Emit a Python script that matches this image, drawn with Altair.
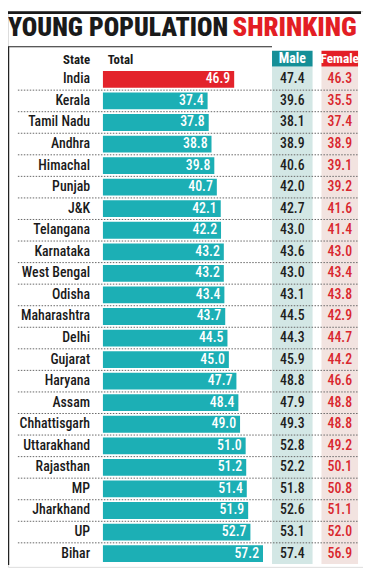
import altair as alt
import pandas as pd

states = ["India", "Kerala", "Tamil Nadu", "Andhra", "Himachal", "Punjab", "J&K",
          "Telangana", "Karnataka", "West Bengal", "Odisha", "Maharashtra", "Delhi",
          "Gujarat", "Haryana", "Assam", "Chhattisgarh", "Uttarakhand", "Rajasthan",
          "MP", "Jharkhand", "UP", "Bihar"]
total = [46.9, 37.4, 37.8, 38.8, 39.8, 40.7, 42.1, 42.2, 43.2, 43.2, 43.4, 43.7, 44.5,
         45.0, 47.7, 48.4, 49.0, 51.0, 51.2, 51.4, 51.9, 52.7, 57.2]
male = [47.4, 39.6, 38.1, 38.9, 40.6, 42.0, 42.7, 43.0, 43.6, 43.0, 43.1, 44.5, 44.3,
        45.9, 48.8, 47.9, 49.3, 52.8, 52.2, 51.8, 52.6, 53.1, 57.4]
female = [46.3, 35.5, 37.4, 38.9, 39.1, 39.2, 41.6, 41.4, 43.0, 43.4, 43.8, 42.9, 44.7,
          44.2, 46.6, 48.8, 48.8, 49.2, 50.1, 50.8, 51.1, 52.0, 56.9]

title_black = "YOUNG POPULATION"
title_red = "SHRINKING"
hdr_state = "State"
hdr_total = "Total"
hdr_male = "Male"
hdr_female = "Female"

df = pd.DataFrame({"State": states, "Total": total, "Male": male, "Female": female})
sep = df.iloc[:-1]
one = pd.DataFrame({"k": [0]})

FONT = "Roboto Condensed, Arial Narrow, sans-serif"
TEAL = "#1cafb5"
RED = "#e3232b"

yscale = alt.Scale(domain=states, range=[58.1, 559.5], paddingInner=0, paddingOuter=0)
Y = alt.Y("State:N", sort=states, scale=yscale, axis=None)
xscale = alt.Scale(domain=[0, 60], range=[96, 265.8], nice=False, zero=True)

def rect(x, x2, y, y2, color):
    return alt.Chart(one).mark_rect(color=color).encode(
        x=alt.value(x), x2=alt.value(x2), y=alt.value(y), y2=alt.value(y2))

def label(txt, x, y, size, color, align="center", weight="bold", baseline="middle"):
    return alt.Chart(one).mark_text(text=txt, font=FONT, fontSize=size, color=color,
                                    align=align, fontWeight=weight, baseline=baseline).encode(
        x=alt.value(x), y=alt.value(y))

topbar = rect(-1, 357, 0, 3, "#1a1a1a")
t1 = label(title_black, 0, 25, 26, "#1a1a1a", align="left", weight=900, baseline="alphabetic")
t2 = label(title_red, 227, 25, 27, "#e31e24", align="left", weight=900, baseline="alphabetic")

frame_top = alt.Chart(one).mark_rule(color="#222", strokeWidth=1.2).encode(
    x=alt.value(0), x2=alt.value(267), y=alt.value(36))
frame_left = alt.Chart(one).mark_rule(color="#222", strokeWidth=1.5).encode(
    x=alt.value(0.5), y=alt.value(36), y2=alt.value(560))

male_bg = rect(267, 308, 56, 559, "#d3e7e5")
female_bg = rect(317, 354, 56, 559, "#f2e3e0")
male_hd = rect(267, 308, 40, 56, "#158f97")
female_hd = rect(317, 354, 40, 56, "#e31f26")

h_state = label(hdr_state, 83, 49, 13, "#1a1a1a", align="right")
h_total = label(hdr_total, 101, 49, 13, "#1a1a1a", align="left")
h_male = label(hdr_male, 287.5, 48.5, 14, "white")
h_female = label(hdr_female, 335.5, 48.5, 13.5, "white")

seps = alt.Chart(sep).mark_rule(color="#666", strokeWidth=1, strokeDash=[1.5, 1.5]).encode(
    y=alt.Y("State:N", sort=states, scale=yscale, axis=None, bandPosition=1),
    x=alt.value(10), x2=alt.value(355))

bars = alt.Chart(df).mark_bar(height=17).encode(
    y=Y,
    x=alt.X("Total:Q", scale=xscale, axis=None),
    color=alt.condition(alt.datum.State == "India", alt.value(RED), alt.value(TEAL)))

bar_txt = alt.Chart(df).mark_text(font=FONT, fontSize=14, fontWeight=500, color="white",
                                  align="right", dx=-4, baseline="middle").encode(
    y=Y, x=alt.X("Total:Q", scale=xscale, axis=None),
    text=alt.Text("Total:Q", format=".1f"))

names = alt.Chart(df).mark_text(font=FONT, fontSize=14, fontWeight=500, color="#1a1a1a",
                                align="right", baseline="middle").encode(
    y=Y, x=alt.value(83), text="State:N")

male_txt = alt.Chart(df).mark_text(font=FONT, fontSize=14, fontWeight=500, color="#1e1e1e",
                                   align="center", baseline="middle").encode(
    y=Y, x=alt.value(287.5), text=alt.Text("Male:Q", format=".1f"))
female_txt = alt.Chart(df).mark_text(font=FONT, fontSize=14, fontWeight=500, color="#d9272e",
                                     align="center", baseline="middle").encode(
    y=Y, x=alt.value(335.5), text=alt.Text("Female:Q", format=".1f"))

chart = alt.layer(
    topbar, t1, t2, frame_top, frame_left, male_bg, female_bg, male_hd, female_hd,
    h_state, h_total, h_male, h_female, seps, bars, bar_txt, names, male_txt, female_txt
).properties(
    width=359, height=562, autosize=alt.AutoSizeParams(type="none"), padding=0
).configure_view(stroke=None).configure(background="white")

chart.save("out.html", embed_options={"renderer": "svg", "actions": False})
